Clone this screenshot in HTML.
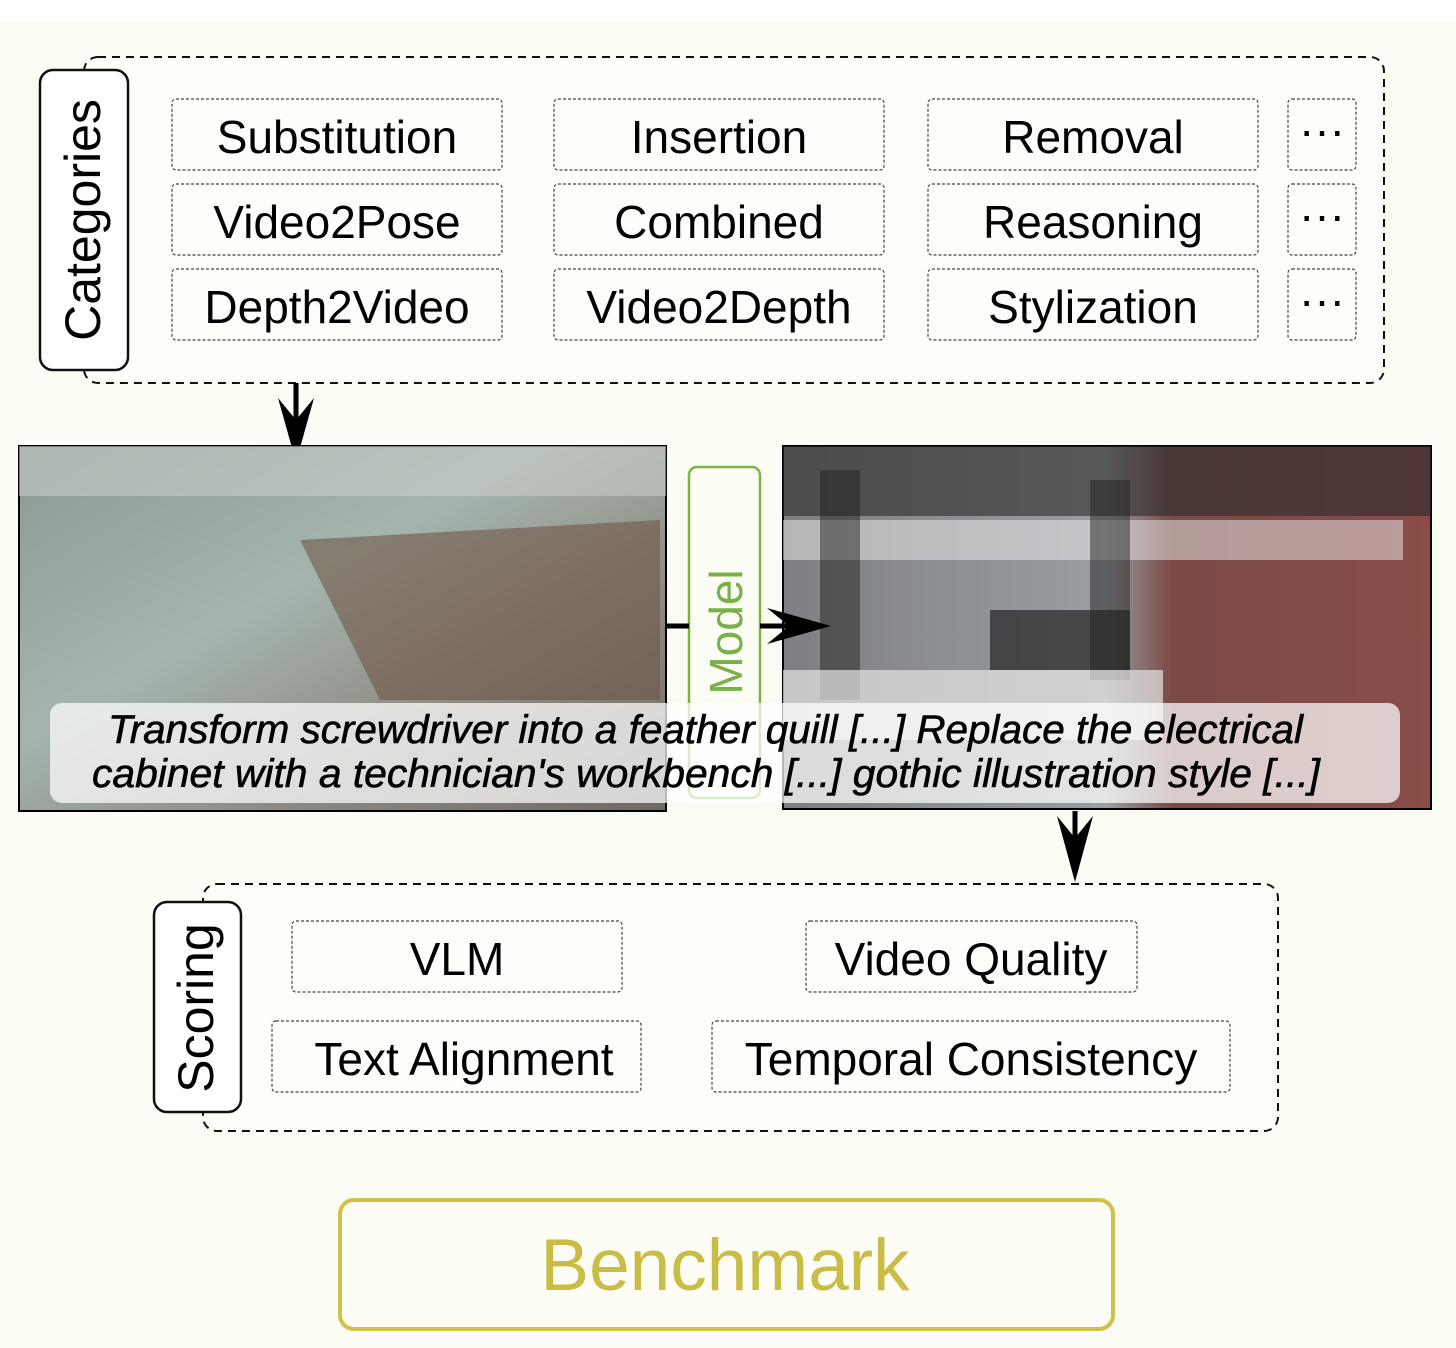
<!DOCTYPE html>
<html><head><meta charset="utf-8"><style>
html,body{margin:0;padding:0;background:#fff;}
svg{display:block;}
text{font-family:"Liberation Sans",Arial,sans-serif;}
</style></head><body>
<svg width="1456" height="1348" viewBox="0 0 1456 1348" xmlns="http://www.w3.org/2000/svg">
<defs>
<linearGradient id="lg" x1="0" y1="0" x2="1" y2="1">
<stop offset="0" stop-color="#8a9a93"/><stop offset="0.4" stop-color="#a5b5ae"/><stop offset="0.7" stop-color="#8d8a80"/><stop offset="1" stop-color="#6e6a62"/></linearGradient>
<linearGradient id="rg" x1="0" y1="0" x2="1" y2="0">
<stop offset="0" stop-color="#7d7f82"/><stop offset="0.5" stop-color="#9a9ea4"/><stop offset="0.6" stop-color="#7a4a45"/><stop offset="1" stop-color="#8a4d48"/></linearGradient>
</defs>
<rect x="0" y="22" width="1456" height="1326" fill="#fbfcf3"/>
<!-- categories -->
<rect x="84" y="57" width="1300" height="326" rx="14" fill="#fdfdf9" stroke="#111" stroke-width="2" stroke-dasharray="8 6"/>
<rect x="40" y="70" width="88" height="300" rx="13" fill="#fff" stroke="#111" stroke-width="2.5"/>
<text transform="translate(100,220) rotate(-90)" text-anchor="middle" font-size="50">Categories</text>
<g fill="none" stroke="#444" stroke-width="1.2" stroke-dasharray="3 2">
<rect x="172" y="99" width="330" height="71" rx="4"/><rect x="554" y="99" width="330" height="71" rx="4"/><rect x="928" y="99" width="330" height="71" rx="4"/><rect x="1288" y="99" width="68" height="71" rx="4"/>
<rect x="172" y="184" width="330" height="71" rx="4"/><rect x="554" y="184" width="330" height="71" rx="4"/><rect x="928" y="184" width="330" height="71" rx="4"/><rect x="1288" y="184" width="68" height="71" rx="4"/>
<rect x="172" y="269" width="330" height="71" rx="4"/><rect x="554" y="269" width="330" height="71" rx="4"/><rect x="928" y="269" width="330" height="71" rx="4"/><rect x="1288" y="269" width="68" height="71" rx="4"/>
</g>
<g font-size="46" text-anchor="middle" fill="#000">
<text x="337" y="153">Substitution</text><text x="719" y="153">Insertion</text><text x="1093" y="153">Removal</text><text x="1322" y="146">···</text>
<text x="337" y="238">Video2Pose</text><text x="719" y="238">Combined</text><text x="1093" y="238">Reasoning</text><text x="1322" y="231">···</text>
<text x="337" y="323">Depth2Video</text><text x="719" y="323">Video2Depth</text><text x="1093" y="323">Stylization</text><text x="1322" y="316">···</text>
</g>
<!-- arrow down 1 -->
<line x1="296" y1="383" x2="296" y2="430" stroke="#000" stroke-width="5"/>
<path d="M296 462 L278 398 L296 420 L314 398 Z" fill="#000"/>
<!-- images -->
<rect x="19" y="446" width="647" height="365" fill="url(#lg)" stroke="#000" stroke-width="2"/>
<rect x="19" y="446" width="647" height="50" fill="#c8ccc6" opacity="0.6"/>
<path d="M300 540 L660 520 L660 700 L380 700 Z" fill="#6b4f40" opacity="0.55"/>
<rect x="783" y="446" width="648" height="363" fill="url(#rg)" stroke="#000" stroke-width="2"/>
<rect x="783" y="446" width="648" height="70" fill="#2a2a2a" opacity="0.6"/>
<rect x="783" y="520" width="620" height="40" fill="#eee" opacity="0.5"/>
<rect x="820" y="470" width="40" height="230" fill="#222" opacity="0.5"/>
<rect x="1090" y="480" width="40" height="200" fill="#222" opacity="0.5"/>
<rect x="990" y="610" width="140" height="60" fill="#222" opacity="0.7"/>
<rect x="783" y="670" width="380" height="70" fill="#e6e6e6" opacity="0.7"/>
<!-- model -->
<rect x="689" y="467" width="71" height="331" rx="8" fill="#fbfcf3" stroke="#7cb342" stroke-width="2.5"/>
<text transform="translate(742,632) rotate(-90)" text-anchor="middle" font-size="46" fill="#78b04a">Model</text>
<line x1="666" y1="626" x2="689" y2="626" stroke="#000" stroke-width="5"/>
<line x1="760" y1="626" x2="800" y2="626" stroke="#000" stroke-width="5"/>
<path d="M831 626 L767 608 L789 626 L767 644 Z" fill="#000"/>
<!-- caption -->
<rect x="50" y="703" width="1350" height="100" rx="12" fill="#ffffff" opacity="0.72"/>
<g font-size="40" font-style="italic" fill="#000" stroke="#000" stroke-width="0.6">
<text x="108" y="743" textLength="1195" lengthAdjust="spacingAndGlyphs">Transform screwdriver into a feather quill [...] Replace the electrical</text>
<text x="92" y="787" textLength="1228" lengthAdjust="spacingAndGlyphs">cabinet with a technician's workbench [...]  gothic illustration style [...]</text>
</g>
<!-- arrow down 2 -->
<line x1="1075" y1="811" x2="1075" y2="850" stroke="#000" stroke-width="5"/>
<path d="M1075 882 L1057 816 L1075 838 L1093 816 Z" fill="#000"/>
<!-- scoring -->
<rect x="203" y="884" width="1075" height="247" rx="14" fill="#fdfdf9" stroke="#111" stroke-width="2" stroke-dasharray="8 6"/>
<rect x="154" y="902" width="87" height="210" rx="13" fill="#fff" stroke="#111" stroke-width="2.5"/>
<text transform="translate(213,1008) rotate(-90)" text-anchor="middle" font-size="50">Scoring</text>
<g fill="none" stroke="#444" stroke-width="1.2" stroke-dasharray="3 2">
<rect x="292" y="921" width="330" height="71" rx="4"/><rect x="806" y="921" width="331" height="71" rx="4"/>
<rect x="272" y="1021" width="369" height="71" rx="4"/><rect x="712" y="1021" width="518" height="71" rx="4"/>
</g>
<g font-size="46" text-anchor="middle" fill="#000">
<text x="457" y="975">VLM</text><text x="971" y="975">Video Quality</text>
<text x="464" y="1075">Text Alignment</text><text x="971" y="1075">Temporal Consistency</text>
</g>
<!-- benchmark -->
<rect x="340" y="1200" width="773" height="129" rx="14" fill="#fdfdf5" stroke="#cfc24a" stroke-width="4"/>
<text x="725" y="1290" text-anchor="middle" font-size="73" fill="#c9bd45">Benchmark</text>
</svg>
</body></html>
